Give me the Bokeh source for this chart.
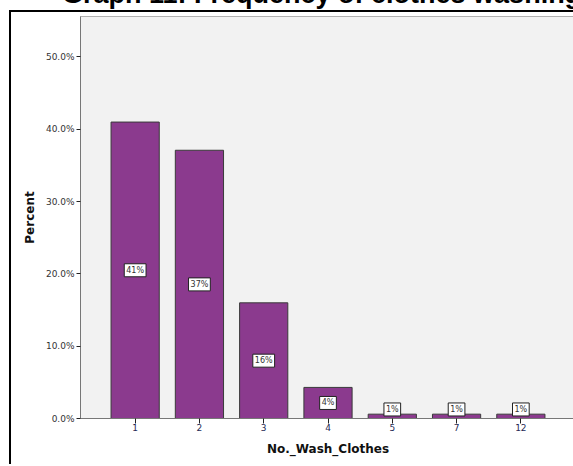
from bokeh.plotting import figure
from bokeh.models import (ColumnDataSource, FactorRange, FixedTicker,
                          PrintfTickFormatter, Div)
from bokeh.core.properties import value
from bokeh.layouts import column
from bokeh.embed import file_html
from bokeh.resources import INLINE

# ---- data ----
categories = ["1", "2", "3", "4", "5", "7", "12"]
percent = [41.0, 37.1, 16.0, 4.3, 0.6, 0.6, 0.6]
bar_labels = ["41%", "37%", "16%", "4%", "1%", "1%", "1%"]
y_ticks = [0, 10, 20, 30, 40, 50]
title_text = "Graph 11: Frequency of clothes washing"

label_y = [max(v / 2.0, 1.25) for v in percent]
src = ColumnDataSource(dict(cat=categories, pct=percent, lab=bar_labels, ly=label_y))

FONT = "DejaVu Sans"

title = Div(
    text=f'<div style="position:relative; top:-19px; left:62px; height:0px; overflow:visible; '
         f'white-space:nowrap; line-height:27px; '
         f'font-family:\'Liberation Sans\',Arial,sans-serif; font-weight:bold; font-size:27px; '
         f'color:#000;">{title_text}</div>',
    width=573, height=10, margin=0,
    styles={"overflow": "visible"},
)

p = figure(
    x_range=FactorRange(factors=categories, range_padding=0.35,
                        range_padding_units="absolute"),
    y_range=(0, 55.6),
    width=564, height=454,
    output_backend="svg", toolbar_location=None,
    min_border_left=69, min_border_right=0, min_border_top=4, min_border_bottom=48,
    background_fill_color="#f2f2f2", border_fill_color="white",
)
p.styles = {"border-left": "2px solid black", "border-top": "2px solid black",
            "margin-left": "9px"}
p.outline_line_color = "#b0b0b0"
p.grid.visible = False

p.vbar(x="cat", top="pct", width=0.75, source=src,
       fill_color="#8b3a8e", line_color="#3a3a3a", line_width=1)

p.text(x="cat", y="ly", text="lab", source=src,
       text_align="center", text_baseline="middle",
       text_font=value(FONT), text_font_size="8px", text_color="#333333",
       background_fill_color="white", border_line_color="#222222",
       border_line_width=1, padding=2)

# y axis
p.yaxis.ticker = FixedTicker(ticks=y_ticks)
p.yaxis.formatter = PrintfTickFormatter(format="%.1f%%")
p.yaxis.minor_tick_line_color = None
p.yaxis.major_tick_in = 0
p.yaxis.major_tick_out = 4
p.yaxis.major_tick_line_color = "#222222"
p.yaxis.axis_line_color = "#777777"
p.yaxis.major_label_text_font = FONT
p.yaxis.major_label_text_font_size = "9px"
p.yaxis.major_label_text_color = "#333333"
p.yaxis.major_label_standoff = 2
p.yaxis.axis_label = "Percent"
p.yaxis.axis_label_text_font = FONT
p.yaxis.axis_label_text_font_style = "bold"
p.yaxis.axis_label_text_font_size = "12px"
p.yaxis.axis_label_text_color = "#111111"
p.yaxis.axis_label_standoff = 6

# x axis
p.xaxis.major_tick_in = 0
p.xaxis.major_tick_out = 5
p.xaxis.major_tick_line_color = "#222222"
p.xaxis.axis_line_color = "#777777"
p.xaxis.major_label_text_font = FONT
p.xaxis.major_label_text_font_size = "9px"
p.xaxis.major_label_text_color = "#1f2a55"
p.xaxis.major_label_standoff = 0
p.xaxis.axis_label = "No._Wash_Clothes"
p.xaxis.axis_label_text_font = FONT
p.xaxis.axis_label_text_font_style = "bold"
p.xaxis.axis_label_text_font_size = "12px"
p.xaxis.axis_label_text_color = "#111111"
p.xaxis.axis_label_standoff = 8

layout = column(title, p, spacing=0)
open("out.html", "w").write(file_html(layout, INLINE))
